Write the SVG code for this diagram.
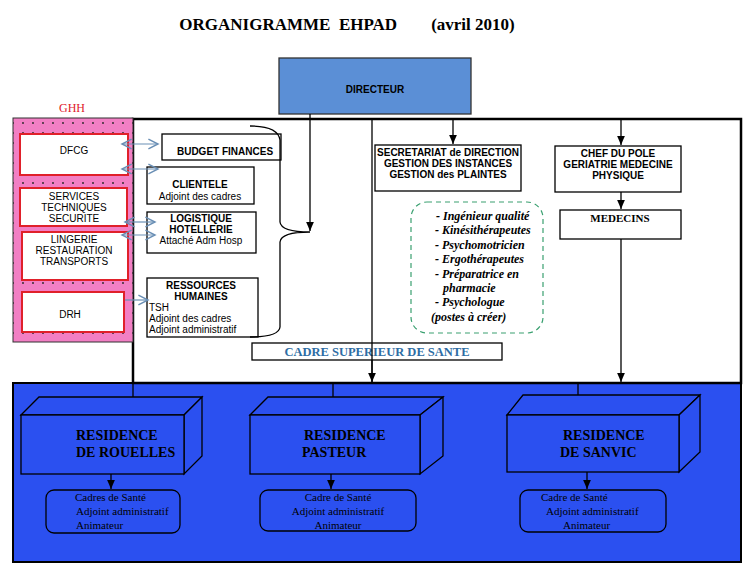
<svg xmlns="http://www.w3.org/2000/svg" width="748" height="568" viewBox="0 0 748 568">
<defs>
<pattern id="dots" width="10" height="10" patternUnits="userSpaceOnUse"><rect width="10" height="10" fill="#f27fc4"/><circle cx="3" cy="3" r="0.9" fill="#222"/></pattern>
<marker id="ah" markerWidth="8" markerHeight="8" refX="7" refY="4" orient="auto"><path d="M0,1 L7,4 L0,7 z" fill="#000"/></marker>
<marker id="ba" markerWidth="10" markerHeight="10" refX="8" refY="5" orient="auto-start-reverse"><path d="M0,1 L8,5 L0,9" fill="none" stroke="#6a8fb5" stroke-width="1.2"/></marker>
<style>
.s{font-family:"Liberation Sans",Arial,sans-serif;font-size:10px}
.sb{font-family:"Liberation Sans",Arial,sans-serif;font-size:10px;font-weight:bold}
.r{font-family:"Liberation Serif","Times New Roman",serif}
.box{fill:#fff;stroke:#000;stroke-width:1.3}
.red{fill:#fff;stroke:#e0202a;stroke-width:2}
.res{fill:#2b50f0;stroke:#000;stroke-width:1.3}
.c{stroke:#000;stroke-width:1.3;fill:none}
.b{stroke:#6a8fb5;stroke-width:1.2;fill:none}
.rt{font-family:"Liberation Serif","Times New Roman",serif;font-size:14px;font-weight:bold}
</style>
</defs>
<rect width="748" height="568" fill="#fff"/>
<text x="347" y="30" text-anchor="middle" class="r" font-size="17" font-weight="bold" xml:space="preserve">ORGANIGRAMME  EHPAD        (avril 2010)</text>

<g id="bottom"><rect x="13" y="383" width="728" height="179" fill="#2b50f0" stroke="#000" stroke-width="2"/></g>
<g id="frame"><rect x="133" y="119" width="608" height="264" fill="#fff" stroke="#000" stroke-width="2.5"/></g>

<g id="ghh">
<text x="72" y="112" text-anchor="middle" class="r" font-size="12" fill="#e0202a">GHH</text>
<rect x="13" y="118" width="120" height="224" fill="url(#dots)" stroke="#333" stroke-width="1"/>
</g>
<g id="dfcg"><rect class="red" x="20" y="134" width="108" height="41"/><text class="s" x="74" y="154" text-anchor="middle">DFCG</text></g>
<g id="services"><rect class="red" x="20" y="188" width="107" height="38"/><text class="s" x="74" y="200" text-anchor="middle">SERVICES</text><text class="s" x="74" y="211" text-anchor="middle">TECHNIQUES</text><text class="s" x="74" y="222" text-anchor="middle">SECURITE</text></g>
<g id="lingerie"><rect class="red" x="22" y="232" width="106" height="48"/><text class="s" x="74" y="243" text-anchor="middle">LINGERIE</text><text class="s" x="74" y="254" text-anchor="middle">RESTAURATION</text><text class="s" x="74" y="265" text-anchor="middle">TRANSPORTS</text></g>
<g id="drh"><rect class="red" x="22" y="292" width="102" height="40"/><text class="s" x="70" y="318" text-anchor="middle">DRH</text></g>

<g id="directeur"><rect x="279" y="58" width="192" height="56" fill="#5b8fd6" stroke="#333" stroke-width="1.3"/><text x="375" y="93" text-anchor="middle" class="sb" font-size="13">DIRECTEUR</text></g>

<g id="budget"><rect class="box" x="162" y="134" width="119" height="26"/><text class="sb" x="225" y="155" text-anchor="middle">BUDGET  FINANCES</text></g>
<g id="clientele"><rect class="box" x="147" y="167" width="107" height="37"/><text class="sb" x="200" y="188" text-anchor="middle">CLIENTELE</text><text class="s" x="200" y="200" text-anchor="middle">Adjoint des cadres</text></g>
<g id="logistique"><rect class="box" x="147" y="212" width="109" height="41"/><text class="sb" x="201" y="222" text-anchor="middle">LOGISTIQUE</text><text class="sb" x="201" y="233" text-anchor="middle">HOTELLERIE</text><text class="s" x="201" y="244" text-anchor="middle">Attaché Adm Hosp</text></g>
<g id="rh"><rect class="box" x="147" y="278" width="111" height="59"/><text class="sb" x="201" y="289" text-anchor="middle">RESSOURCES</text><text class="sb" x="201" y="300" text-anchor="middle">HUMAINES</text><text class="s" x="149" y="311">TSH</text><text class="s" x="149" y="322">Adjoint des cadres</text><text class="s" x="149" y="333">Adjoint administratif</text></g>

<g id="secretariat"><rect class="box" x="375" y="145" width="146" height="46"/><text class="sb" x="448" y="156" text-anchor="middle">SECRETARIAT de DIRECTION</text><text class="sb" x="448" y="167" text-anchor="middle">GESTION DES INSTANCES</text><text class="sb" x="448" y="178" text-anchor="middle">GESTION des PLAINTES</text></g>
<g id="chef"><rect class="box" x="555" y="146" width="126" height="46"/><text class="sb" x="618" y="157" text-anchor="middle">CHEF DU POLE</text><text class="sb" x="618" y="168" text-anchor="middle">GERIATRIE MEDECINE</text><text class="sb" x="618" y="179" text-anchor="middle">PHYSIQUE</text></g>
<g id="medecins"><rect class="box" x="560" y="210" width="121" height="29"/><text x="620" y="222" text-anchor="middle" class="r" font-size="11" font-weight="bold">MEDECINS</text></g>

<g id="paramed">
<rect x="411" y="202" width="132" height="131" rx="16" fill="#fff" stroke="#3aa070" stroke-width="1.2" stroke-dasharray="5,4"/>
<g class="r" font-size="12" font-style="italic" font-weight="bold">
<text x="436" y="220">- Ingénieur qualité</text>
<text x="435" y="234">- Kinésithérapeutes</text>
<text x="435" y="249">- Psychomotricien</text>
<text x="435" y="263">- Ergothérapeutes</text>
<text x="435" y="278">- Préparatrice en</text>
<text x="443" y="292">pharmacie</text>
<text x="435" y="306">- Psychologue</text>
<text x="412" y="321" dx="19">(postes à créer)</text>
</g></g>

<g id="cadre"><rect x="252" y="343" width="250" height="17" fill="#fff" stroke="#000" stroke-width="1.3"/><text x="377" y="356" text-anchor="middle" class="r" font-size="12.5" font-weight="bold" fill="#2e6da4">CADRE SUPERIEUR DE SANTE</text></g>

<g id="rouelles">
<path class="res" d="M21,415 L39,397 L202,397 L184,415 Z"/><path class="res" d="M184,415 L202,397 L202,456 L184,474 Z"/><rect class="res" x="21" y="415" width="163" height="59"/>
<text x="76" y="440" class="rt">RESIDENCE</text><text x="76" y="457" class="rt">DE ROUELLES</text>
</g>
<g id="pasteur">
<path class="res" d="M250,415 L268,397 L443,397 L420,415 Z"/><path class="res" d="M420,415 L443,397 L443,456 L420,474 Z"/><rect class="res" x="250" y="415" width="170" height="59"/>
<text x="304" y="440" class="rt">RESIDENCE</text><text x="302" y="457" class="rt">PASTEUR</text>
</g>
<g id="sanvic">
<path class="res" d="M507,415 L523,395 L700,395 L679,415 Z"/><path class="res" d="M679,415 L700,395 L700,452 L679,472 Z"/><rect class="res" x="507" y="415" width="172" height="57"/>
<text x="563" y="440" class="rt">RESIDENCE</text><text x="560" y="457" class="rt">DE SANVIC</text>
</g>

<g id="staff1"><rect class="res" x="46" y="490" width="134" height="43" rx="8"/><g class="r" font-size="11"><text x="75" y="501">Cadres de Santé</text><text x="76" y="515">Adjoint administratif</text><text x="76" y="529">Animateur</text></g></g>
<g id="staff2"><rect class="res" x="260" y="490" width="156" height="41" rx="8"/><g class="r" font-size="11" text-anchor="middle"><text x="338" y="501">Cadre de Santé</text><text x="338" y="515">Adjoint administratif</text><text x="338" y="529">Animateur</text></g></g>
<g id="staff3"><rect class="res" x="520" y="490" width="146" height="42" rx="8"/><g class="r" font-size="11"><text x="541" y="501">Cadre de Santé</text><text x="546" y="515">Adjoint administratif</text><text x="563" y="529">Animateur</text></g></g>

<g id="connectors">
<path class="c" d="M250,126 Q278,126 280,140 L280,222 Q281,232 310,232 Q281,232 280,242 L280,327 Q279,337 250,337"/>
<path class="c" d="M310,114 L310,231" marker-end="url(#ah)"/>
<path class="c" d="M372,119 L372,383"/>
<path class="c" d="M453,119 L453,144" marker-end="url(#ah)"/>
<path class="c" d="M621,119 L621,145" marker-end="url(#ah)"/>
<path class="c" d="M621,192 L621,209" marker-end="url(#ah)"/>
<path class="c" d="M621,239 L621,382" marker-end="url(#ah)"/>
<path class="c" d="M372,360 L372,382" marker-end="url(#ah)"/>
<path class="c" d="M133,383 L133,397"/>
<path class="c" d="M333,383 L333,397"/>
<path class="c" d="M578,383 L578,395"/>
<path class="c" d="M111,474 L111,489" marker-end="url(#ah)"/>
<path class="c" d="M331,474 L331,489" marker-end="url(#ah)"/>
<path class="c" d="M587,472 L587,489" marker-end="url(#ah)"/>
<path class="b" d="M122,144 L158,144" marker-start="url(#ba)" marker-end="url(#ba)"/>
<path class="b" d="M122,169 L158,169" marker-start="url(#ba)" marker-end="url(#ba)"/>
<path class="b" d="M125,222 L155,222" marker-start="url(#ba)" marker-end="url(#ba)"/>
<path class="b" d="M122,235 L155,235" marker-start="url(#ba)" marker-end="url(#ba)"/>
<path class="b" d="M125,300 L148,300" marker-end="url(#ba)"/>
</g>
</svg>
